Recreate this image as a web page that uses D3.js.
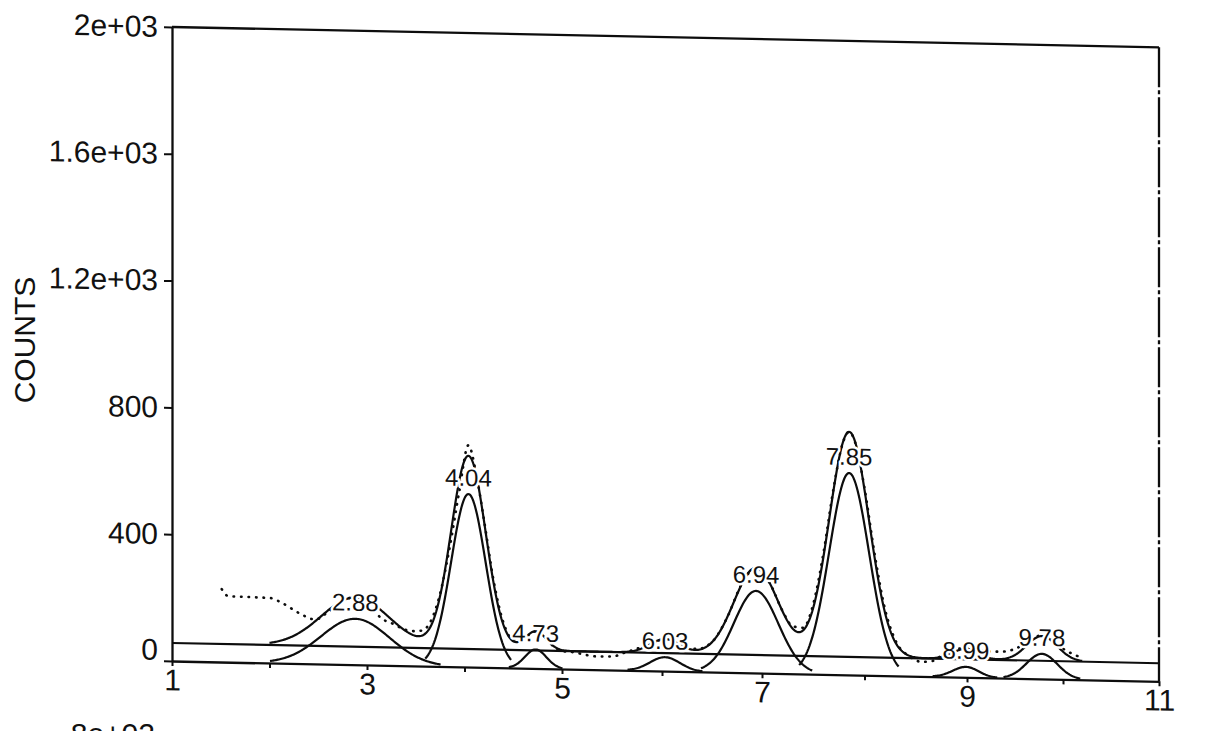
<!DOCTYPE html>
<html>
<head>
<meta charset="utf-8">
<script src="https://cdn.jsdelivr.net/npm/d3@7"></script>
<style>
html,body{margin:0;padding:0;background:#fff;overflow:hidden}
svg{display:block;background:#fff}
text{font-family:"Liberation Sans",Arial,Helvetica,sans-serif;fill:#111}
</style>
</head>
<body>
<svg id="chart" width="1220" height="731"></svg>
<script>
// ---------------- data ----------------
const xTickValues = [1,2,3,4,5,6,7,8,9,10,11];
const xTickLabels = ["1","","3","","5","","7","","9","","11"];
const yTickValues = [0,400,800,1200,1600,2000];
const yTickLabels = ["0","400","800","1.2e+03","1.6e+03","2e+03"];
const yAxisTitle = "COUNTS";
const nextPanelLabel = "8e+02";

// fitted peaks (centre, component height, width sigma)
const peakLabels   = ["2.88","4.04","4.73","6.03","6.94","7.85","8.99","9.78"];
const peakCenters  = [2.88, 4.04, 4.73, 6.03, 6.94, 7.85, 8.99, 9.78];
const peakHeights  = [145, 546, 60, 44, 259, 637, 33, 79];
const peakWidths   = [0.35, 0.177, 0.11, 0.15, 0.22, 0.195, 0.13, 0.16];
// fitted envelope (peak heights above the baseline level)
const envelopeHeights = [155, 609, 60, 44, 275, 710, 33, 78];
const baselineLevel = 57;
const envelopeStart = 2.0, envelopeEnd = 10.2;

// measured data (dotted)
const dataX = [1.51,1.58,1.75,1.9,2.01,2.13,2.3,2.47,2.6,2.75,2.88,3.0,3.14,3.28,3.38,3.47,3.56,3.65,3.75,3.85,3.95,4.04,4.12,4.2,4.3,4.4,4.5,4.6,4.73,4.85,4.97,5.13,5.24,5.35,5.51,5.62,5.72,5.85,6.03,6.2,6.35,6.5,6.65,6.8,6.94,7.08,7.2,7.3,7.4,7.5,7.6,7.7,7.78,7.85,7.92,8.0,8.1,8.2,8.3,8.44,8.56,8.67,8.77,8.99,9.15,9.34,9.5,9.65,9.78,9.9,10.0,10.2];
const dataY = [230,208,207,206,205,190,160,140,165,200,214,200,150,130,115,110,112,140,230,380,560,700,610,465,272,142,90,92,117,90,58,53,46,42,43,55,66,80,101,82,72,95,172,282,332,282,198,150,146,221,384,591,722,767,722,591,381,210,113,62,46,50,72,92,85,83,93,120,138,120,97,69];

// ---------------- layout ----------------
const plotLeft = 172, plotTop = 27, plotH = 634;
const xStops = [1,3,5,7,9,11];
const xStopPx = [0,195,390,590,795,987];   // scanned axis is slightly uneven
const skewDeg = 1.18;
const ink = "#0d0d0d";

const svg = d3.select("#chart");
const g = svg.append("g").attr("transform", `translate(${plotLeft},${plotTop}) skewY(${skewDeg})`);

const x = d3.scaleLinear().domain(xStops).range(xStopPx);
const y = d3.scaleLinear().domain([0,2000]).range([plotH,0]);

// y axis
const yAx = g.append("g").attr("class","yaxis")
  .call(d3.axisLeft(y).tickValues(yTickValues)
        .tickFormat((d,i)=>yTickLabels[i]).tickSize(8).tickPadding(6).tickSizeOuter(0));
yAx.selectAll("path.domain").attr("stroke",ink).attr("stroke-width",2.3);
yAx.selectAll(".tick line").attr("stroke",ink).attr("stroke-width",2);
yAx.selectAll(".tick text").attr("font-size",30).attr("fill",ink)
   .style("font-family",'"Liberation Sans",Arial,sans-serif');
yAx.selectAll(".tick").filter(d=>d===0).select("text").attr("y",-11);

// x axis
const xAx = g.append("g").attr("class","xaxis").attr("transform",`translate(0,${plotH})`)
  .call(d3.axisBottom(x).tickValues(xTickValues)
        .tickFormat((d,i)=>xTickLabels[i]).tickSize(5).tickPadding(3).tickSizeOuter(0));
xAx.selectAll("path.domain").attr("stroke",ink).attr("stroke-width",2.3);
xAx.selectAll(".tick line").attr("stroke",ink).attr("stroke-width",2);
xAx.selectAll(".tick text").attr("font-size",30).attr("fill",ink)
   .style("font-family",'"Liberation Sans",Arial,sans-serif');

// frame (top + right)
g.append("line").attr("x1",x(1)).attr("x2",x(11)).attr("y1",y(2000)).attr("y2",y(2000))
  .attr("stroke",ink).attr("stroke-width",2.3);
g.append("line").attr("x1",x(11)).attr("x2",x(11)).attr("y1",y(2000)).attr("y2",y(0))
  .attr("stroke",ink).attr("stroke-width",2.3).attr("stroke-dasharray","40,3,4,3");

// baseline level line
g.append("line").attr("x1",x(1)).attr("x2",x(11)).attr("y1",y(baselineLevel)).attr("y2",y(baselineLevel))
  .attr("stroke",ink).attr("stroke-width",2.1);

const gauss = (t,c,h,s)=> h*Math.exp(-((t-c)*(t-c))/(2*s*s));
const line = d3.line().x(d=>x(d[0])).y(d=>y(d[1]));

// component peaks
peakCenters.forEach((c,i)=>{
  const s = peakWidths[i], h = peakHeights[i];
  const pts = d3.range(c-2.5*s, c+2.5*s+1e-9, 0.01).map(t=>[t, gauss(t,c,h,s)]);
  g.append("path").datum(pts).attr("d",line)
    .attr("fill","none").attr("stroke",ink).attr("stroke-width",2.2);
});

// envelope
const envPts = d3.range(envelopeStart, envelopeEnd+1e-9, 0.01).map(t=>{
  let v = baselineLevel;
  peakCenters.forEach((c,i)=>{ v += gauss(t,c,envelopeHeights[i],peakWidths[i]); });
  return [t,v];
});
g.append("path").datum(envPts).attr("d",line)
  .attr("fill","none").attr("stroke",ink).attr("stroke-width",2.2);

// measured data dotted
const dataPts = dataX.map((d,i)=>[d,dataY[i]]);
g.append("path").datum(dataPts)
  .attr("d", d3.line().x(d=>x(d[0])).y(d=>y(d[1])).curve(d3.curveMonotoneX))
  .attr("fill","none").attr("stroke",ink).attr("stroke-width",2.6)
  .attr("stroke-linecap","round").attr("stroke-dasharray","0.5,7");

// peak labels
g.selectAll("text.peak").data(peakLabels).enter().append("text")
  .attr("class","peak")
  .attr("x",(d,i)=>x(peakCenters[i]))
  .attr("y",(d,i)=>y(peakHeights[i])-8)
  .attr("text-anchor","middle").attr("font-size",24)
  .attr("stroke","#fff").attr("stroke-width",5).attr("paint-order","stroke")
  .attr("stroke-linejoin","round")
  .text(d=>d);

// axis title
svg.append("text").attr("transform","translate(35,340) rotate(-90)")
  .attr("text-anchor","middle").attr("font-size",30).text(yAxisTitle);

// label of the next panel (cut off at the bottom, as in the scan)
svg.append("text").attr("x",155).attr("y",744).attr("text-anchor","end")
  .attr("font-size",30).text(nextPanelLabel);
</script>
</body>
</html>
